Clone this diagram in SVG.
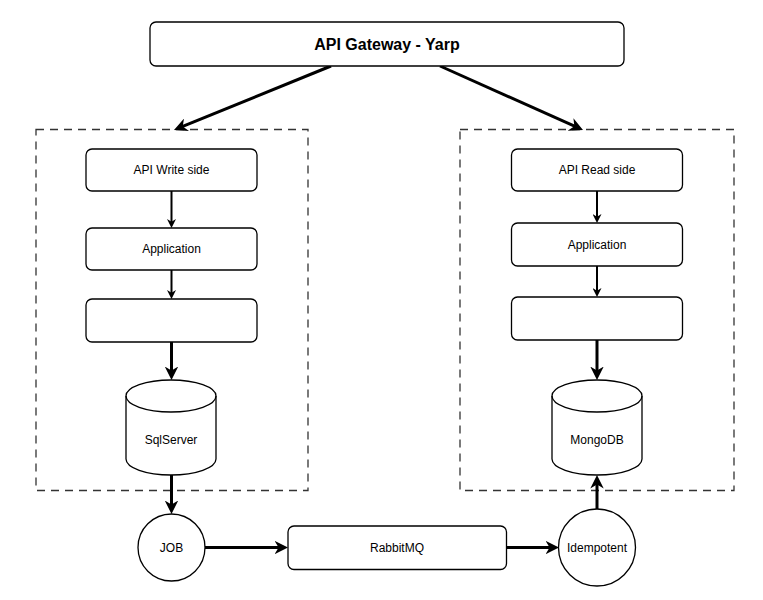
<svg xmlns="http://www.w3.org/2000/svg" width="763" height="600" viewBox="0 0 763 600">
<defs>
<style>
.box{fill:#fff;stroke:#000;stroke-width:1.3}
.grp{fill:none;stroke:#333;stroke-width:1.3;stroke-dasharray:8 6}
.lbl{font-family:"Liberation Sans",Arial,sans-serif;font-size:12px;fill:#000;text-anchor:middle;dominant-baseline:central}
.title{font-family:"Liberation Sans",Arial,sans-serif;font-size:16px;font-weight:bold;fill:#000;text-anchor:middle;dominant-baseline:central}
.e2{fill:none;stroke:#000;stroke-width:2;marker-end:url(#ah)}
.e3{fill:none;stroke:#000;stroke-width:3;marker-end:url(#ah)}
</style>
<marker id="ah" viewBox="0 0 10 10" refX="4" refY="5" markerWidth="4.5" markerHeight="4.5" markerUnits="strokeWidth" orient="auto">
<path d="M0,0 L10,5 L0,10 L3,5 Z" fill="#000"/>
</marker>
</defs>
<rect width="763" height="600" fill="#fff"/>
<g id="groups">
<rect id="write-group" class="grp" x="36" y="129.5" width="272" height="361"/>
<rect id="read-group" class="grp" x="460" y="129.5" width="274" height="361"/>
</g>
<g id="connectors">
<path class="e3" d="M331,66 L181.5,126.9"/>
<path class="e3" d="M440,66 L575.6,126.7"/>
<path class="e2" d="M171.5,191 V222.6"/>
<path class="e2" d="M171.5,270 V293.6"/>
<path class="e3" d="M171.5,342 V371.9"/>
<path class="e3" d="M171.5,475 V505.9"/>
<path class="e2" d="M597,191 V217.6"/>
<path class="e2" d="M597,266 V291.6"/>
<path class="e3" d="M597,340 V371.9"/>
<path class="e3" d="M597,509 V483.1"/>
<path class="e3" d="M204.5,547.5 H279.9"/>
<path class="e3" d="M506.5,547.5 H550.9"/>
</g>
<g id="gateway"><rect class="box" x="150" y="22" width="474" height="44" rx="6"/><text class="title" x="387" y="44">API Gateway - Yarp</text></g>
<g id="api-write"><rect class="box" x="86" y="149" width="171" height="42" rx="6"/><text class="lbl" x="171.5" y="170">API Write side</text></g>
<g id="app-write"><rect class="box" x="86" y="228" width="171" height="42" rx="6"/><text class="lbl" x="171.5" y="249">Application</text></g>
<g id="empty-write"><rect class="box" x="86" y="299" width="171" height="43" rx="6"/></g>
<g id="sqlserver"><path class="box" d="M126,396 a45,16 0 0 1 90,0 v63 a45,16 0 0 1 -90,0 Z"/><path class="box" style="fill:none" d="M126,396 a45,16 0 0 0 90,0"/><text class="lbl" x="171" y="440">SqlServer</text></g>
<g id="api-read"><rect class="box" x="511.5" y="149" width="171" height="42" rx="6"/><text class="lbl" x="597" y="170">API Read side</text></g>
<g id="app-read"><rect class="box" x="511.5" y="223" width="171" height="43" rx="6"/><text class="lbl" x="597" y="244.5">Application</text></g>
<g id="empty-read"><rect class="box" x="511.5" y="297" width="171" height="43" rx="6"/></g>
<g id="mongodb"><path class="box" d="M552,396 a45,16 0 0 1 90,0 v63 a45,16 0 0 1 -90,0 Z"/><path class="box" style="fill:none" d="M552,396 a45,16 0 0 0 90,0"/><text class="lbl" x="597" y="440">MongoDB</text></g>
<g id="job"><circle class="box" cx="171.5" cy="547.5" r="33.5"/><text class="lbl" x="171.5" y="547.5">JOB</text></g>
<g id="rabbitmq"><rect class="box" x="288" y="526" width="218.5" height="43.5" rx="6"/><text class="lbl" x="397" y="547.5">RabbitMQ</text></g>
<g id="idempotent"><circle class="box" cx="597" cy="547.5" r="38.5"/><text class="lbl" x="597" y="547.5">Idempotent</text></g>
</svg>
